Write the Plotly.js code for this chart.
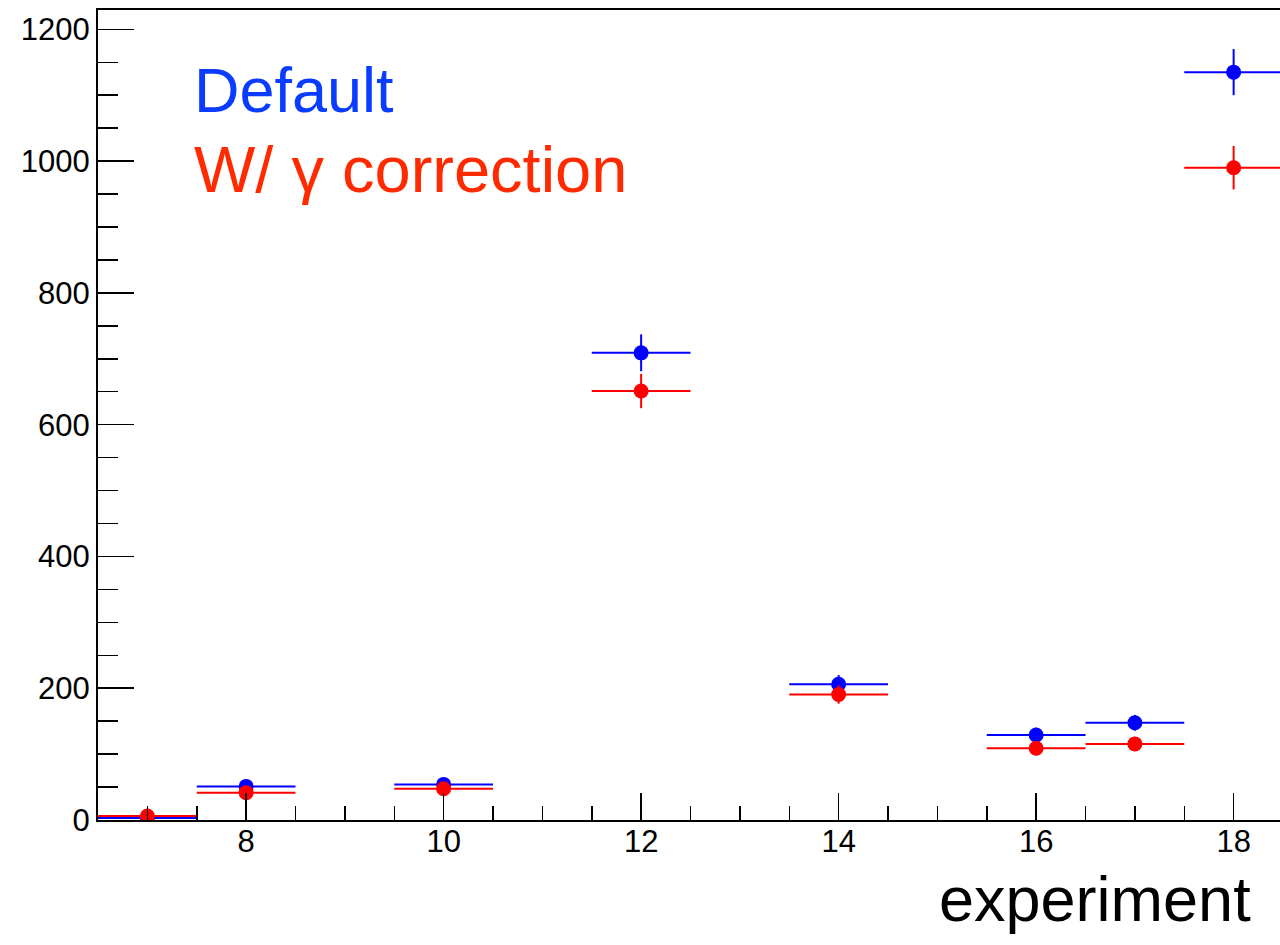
<!DOCTYPE html>
<html>
<head>
<meta charset="utf-8">
<script src="https://cdn.plot.ly/plotly-3.0.1.min.js"></script>
<style>
html,body{margin:0;padding:0;overflow:hidden;background:#fff;width:1280px;height:945px;}
#chart{width:1300px;height:945px;}
</style>
</head>
<body>
<div id="chart"></div>
<script>
var experiments = [7, 8, 10, 12, 14, 16, 17, 18];
var defaultValues = [3, 51, 54, 709, 206, 129, 147.5, 1135];
var defaultErrors = [1.7, 7, 7.3, 28, 14, 11, 12, 35];
var correctedValues = [6, 41.5, 47.5, 651, 190.5, 109, 115.5, 990];
var correctedErrors = [2.4, 6.5, 6.9, 26, 14, 10.5, 10.7, 33];
var binHalfWidth = [0.5, 0.5, 0.5, 0.5, 0.5, 0.5, 0.5, 0.5];
var legendLabels = ["Default", "W/ γ correction"];
var xTitle = "experiment";

var FONT = "Liberation Sans, Arial, Helvetica, sans-serif";

function series(y, err, color) {
  return {
    type: "scatter",
    mode: "markers",
    x: experiments,
    y: y,
    marker: {color: color, size: 15, symbol: "circle"},
    error_y: {type: "data", array: err, visible: true, color: color, thickness: 2, width: 0},
    error_x: {type: "data", array: binHalfWidth, visible: true, color: color, thickness: 2, width: 0},
    showlegend: false,
    hoverinfo: "x+y"
  };
}

var data = [
  series(defaultValues, defaultErrors, "#0000ff"),
  series(correctedValues, correctedErrors, "#ff0000")
];

var layout = {
  width: 1300,
  height: 945,
  margin: {l: 97.5, r: 16.6, t: 10, b: 125, pad: 0},
  paper_bgcolor: "#ffffff",
  plot_bgcolor: "#ffffff",
  font: {family: FONT, color: "#000"},
  xaxis: {
    range: [6.5, 18.5],
    showgrid: false,
    zeroline: false,
    showline: true,
    linecolor: "#000",
    linewidth: 2,
    mirror: true,
    ticks: "inside",
    tick0: 0,
    dtick: 2,
    ticklen: 27,
    tickwidth: 1.5,
    tickcolor: "#000",
    ticklabelstandoff: -7,
    tickfont: {size: 31, family: FONT, color: "#000"},
    minor: {dtick: 0.5, tick0: 0, ticks: "inside", ticklen: 14, tickwidth: 1.5, tickcolor: "#000", showgrid: false},
    fixedrange: true
  },
  yaxis: {
    range: [0, 1229.3],
    showgrid: false,
    zeroline: false,
    showline: true,
    linecolor: "#000",
    linewidth: 2,
    mirror: true,
    ticks: "inside",
    tick0: 0,
    dtick: 200,
    ticklen: 36,
    tickwidth: 1.5,
    tickcolor: "#000",
    tickfont: {size: 31, family: FONT, color: "#000"},
    minor: {dtick: 50, tick0: 0, ticks: "inside", ticklen: 20, tickwidth: 1.5, tickcolor: "#000", showgrid: false},
    fixedrange: true
  },
  annotations: [
    {text: legendLabels[0], xref: "paper", yref: "paper", x: 0.0797, y: 0.9015,
     xanchor: "left", yanchor: "middle", showarrow: false,
     font: {family: FONT, size: 63, color: "#0a3cff"}},
    {text: legendLabels[1], xref: "paper", yref: "paper", x: 0.0797, y: 0.8035,
     xanchor: "left", yanchor: "middle", showarrow: false,
     font: {family: FONT, size: 65, color: "#ff2a00"}},
    {text: xTitle, xref: "paper", yref: "paper", x: 0.9745, y: -0.052,
     xanchor: "right", yanchor: "top", showarrow: false,
     font: {family: FONT, size: 63, color: "#000"}}
  ]
};

Plotly.newPlot("chart", data, layout, {staticPlot: true, displayModeBar: false});
</script>
</body>
</html>
